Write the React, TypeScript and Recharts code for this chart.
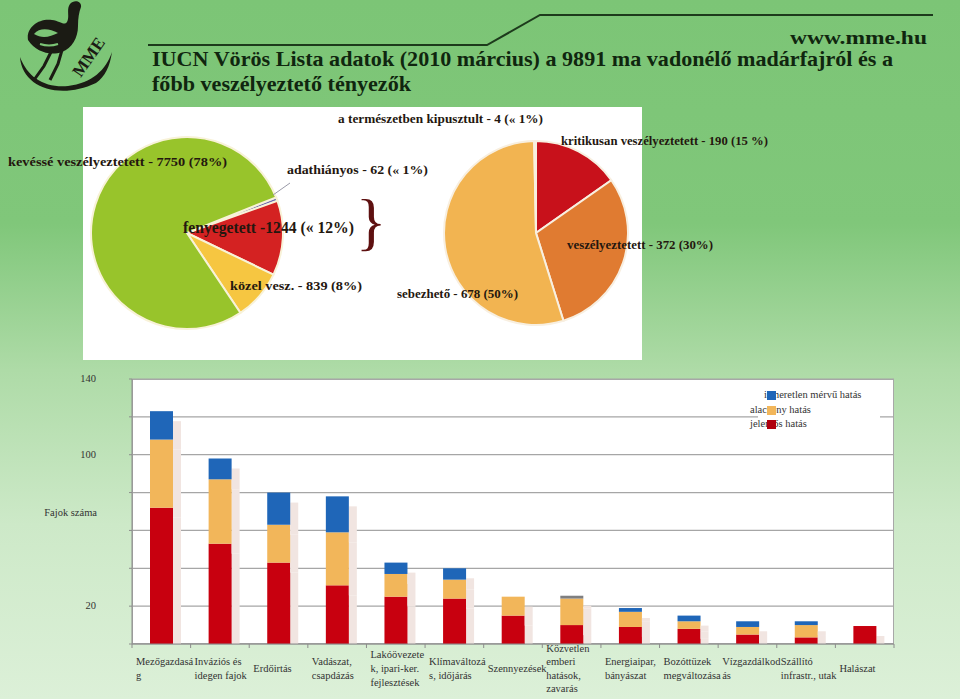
import React from "react";
import { PieChart, Pie, Cell, BarChart, Bar, XAxis, YAxis, CartesianGrid, Label } from "recharts";

const SERIF = '"Liberation Serif", "DejaVu Serif", serif';
const INK = "#24170f";
const TITLE_INK = "#10260f";

// bal kör: a 9891 faj IUCN kategóriái
const STATUS_NAMES = ["adathiányos", "fenyegetett", "közel vesz.", "kevéssé veszélyeztetett"];
const STATUS_COUNTS = [62, 1244, 839, 7750];
const STATUS_COLORS = ["#6f70b2", "#d42222", "#f6c641", "#98c42b"];

// jobb kör: a fenyegetett fajok bontása
const THREAT_NAMES = ["kritikusan veszélyeztetett", "veszélyeztetett", "sebezhető", "a természetben kipusztult"];
const THREAT_COUNTS = [190, 372, 678, 4];
const THREAT_COLORS = ["#c8111b", "#e07b31", "#f2b451", "#9b9b9b"];

// oszlopdiagram: veszélyeztető tényezők
const FACTORS = [
  "Mezőgazdasá\ng",
  "Inváziós és\nidegen fajok",
  "Erdőirtás",
  "Vadászat,\ncsapdázás",
  "Lakóövezete\nk, ipari-ker.\nfejlesztések",
  "Klímaváltozá\ns, időjárás",
  "Szennyezések",
  "Közvetlen\nemberi\nhatások,\nzavarás",
  "Energiaipar,\nbányászat",
  "Bozóttüzek\nmegváltozása",
  "Vízgazdálkod\nás",
  "Szállító\ninfrastr., utak",
  "Halászat",
];
const SIGNIFICANT = [72, 53, 43, 31, 25, 24, 15, 10, 9, 8, 5, 3.5, 9.5];
const LOW = [36, 34, 20, 28, 12, 10, 10, 14, 8, 4, 4, 6.5, 0];
const UNKNOWN = [15, 11, 17, 19, 6, 6, 0, 1.5, 2, 3, 3, 2, 0];
const Y_TICKS = [0, 20, 40, 60, 80, 100, 120, 140];
const Y_LABELS = [20, 100, 140];

const RED = "#c8000f";
const ORANGE = "#f2b65a";
const BLUE = "#1f66b8";
const GREY_TOP = "#7f7f80";

// jelmagyarázat sorrendje (felülről lefelé)
const LEGEND_NAMES = ["ismeretlen mérvű hatás", "alacsony hatás", "jelentős hatás"];
const LEGEND_COLORS = [BLUE, ORANGE, "#b0000e"];

const statusData = STATUS_NAMES.map((name, i) => ({ name, value: STATUS_COUNTS[i] }));
const threatData = THREAT_NAMES.map((name, i) => ({ name, value: THREAT_COUNTS[i] }));
const barData = FACTORS.map((name, i) => ({
  name,
  high: SIGNIFICANT[i],
  low: LOW[i],
  unknown: UNKNOWN[i],
}));

// bar chart geometry
const BAR_TOP = 370;
const BAR_W = 960;
const BAR_H = 329;
const X_AXIS_H = 55;
const M = { top: 9, right: 66, bottom: 0, left: 0 };
const Y_AXIS_W = 132;
const PLOT_W = BAR_W - M.right - Y_AXIS_W;
const BASELINE = BAR_H - X_AXIS_H;
const BAND = PLOT_W / FACTORS.length;

const PIE_TEXTS = [
  { t: "kevéssé veszélyeztetett - 7750 (78%)", x: 8, y: 166, w: 219, s: 13, b: true },
  { t: "adathiányos - 62 (« 1%)", x: 287, y: 174, w: 141, s: 13, b: true },
  { t: "fenyegetett -1244 (« 12%)", x: 183, y: 233, w: 171, s: 16, b: true },
  { t: "közel vesz. - 839 (8%)", x: 230, y: 290, w: 132, s: 13, b: true },
  { t: "sebezhető - 678 (50%)", x: 397, y: 298, w: 121, s: 13, b: true },
  { t: "a természetben kipusztult - 4 (« 1%)", x: 338, y: 123, w: 205, s: 13, b: true },
  { t: "kritikusan veszélyeztetett - 190 (15 %)", x: 561, y: 145, w: 207, s: 13, b: true },
  { t: "veszélyeztetett - 372 (30%)", x: 567, y: 249, w: 146, s: 13, b: true },
];

function Header() {
  return (
    <svg width={960} height={110} style={{ position: "absolute", left: 0, top: 0 }}>
      {/* MME logó, nagyjából */}
      <path
        d="M 20 57 C 22 88, 60 100, 96 83 C 105 77, 110 66, 112 52 C 106 70, 92 83, 68 86 C 45 88, 28 78, 20 57 Z"
        fill="#1b1b14"
      />
      <path
        d="M 28 40 C 26 28, 38 18, 52 20 C 60 21, 64 26, 67 22 C 70 16, 66 10, 70 4 C 74 -1, 82 1, 81 7 C 79 12, 78 18, 78 26 C 78 38, 72 48, 62 52 C 50 56, 36 52, 28 40 Z"
        fill="#1b1b14"
      />
      <path d="M 34 34 C 40 27, 50 29, 58 33 C 50 37, 42 39, 34 34 Z" fill="#7cc576" />
      <path d="M 40 44 C 46 46, 52 46, 58 44" stroke="#7cc576" strokeWidth={2} fill="none" />
      <path d="M 52 50 L 44 66 L 34 80 M 62 50 L 58 64 L 50 80" stroke="#1b1b14" strokeWidth={3} fill="none" />
      <text
        x={90}
        y={62}
        transform="rotate(-55 90 58)"
        textAnchor="middle"
        fontFamily={SERIF}
        fontWeight="bold"
        fontSize={17}
        fill="#1b1b14"
      >
        MME
      </text>
      <polyline points="148,45 487,45 540,15 933,15" fill="none" stroke="#1d3a1c" strokeWidth={2} />
      <text x={790} y={44} fontFamily={SERIF} fontWeight="bold" fontSize={19} fill={TITLE_INK} textLength={137} lengthAdjust="spacingAndGlyphs">
        www.mme.hu
      </text>
      <text x={152} y={66} fontFamily={SERIF} fontWeight="bold" fontSize={22} fill={TITLE_INK} textLength={741} lengthAdjust="spacingAndGlyphs">
        IUCN Vörös Lista adatok (2010 március) a 9891 ma vadonélő madárfajról és a
      </text>
      <text x={152} y={91} fontFamily={SERIF} fontWeight="bold" fontSize={22} fill={TITLE_INK} textLength={259} lengthAdjust="spacingAndGlyphs">
        főbb veszélyeztető tényezők
      </text>
    </svg>
  );
}

function PieLabels() {
  return (
    <svg width={960} height={380} style={{ position: "absolute", left: 0, top: 0, pointerEvents: "none" }}>
      <line x1={273} y1={195} x2={290} y2={183} stroke="#9a9aa8" strokeWidth={1} />
      <text x={371} y={243} textAnchor="middle" fontFamily={SERIF} fontSize={64} fill="#5e1010">
        {"}"}
      </text>
      {PIE_TEXTS.map((p) => (
        <text
          key={p.t}
          x={p.x}
          y={p.y}
          fontFamily={SERIF}
          fontWeight={p.b ? "bold" : "normal"}
          fontSize={p.s}
          fill={INK}
          textLength={p.w}
          lengthAdjust="spacingAndGlyphs"
        >
          {p.t}
        </text>
      ))}
    </svg>
  );
}

function ShadowBar(props: any) {
  const { x, y, width, height, fill } = props;
  if (!height || height <= 0) return <g />;
  const bottom = Math.min(y + height + 10, BASELINE);
  return (
    <g>
      {bottom > y + 10 && <rect x={x + width} y={y + 10} width={8} height={bottom - y - 10} fill="#f1e5e1" />}
      <rect x={x} y={y} width={width} height={height} fill={fill} />
    </g>
  );
}

function FactorTick(props: any) {
  const { x, payload, index } = props;
  const lines = String(payload.value).split("\n");
  const left = x - BAND / 2;
  const lh = 13.6;
  const y0 = 298 - ((lines.length - 1) * lh) / 2 + 4;
  return (
    <g>
      <line x1={left} x2={left} y1={BASELINE} y2={BASELINE + 4} stroke="#8c8c8c" />
      {index === FACTORS.length - 1 && (
        <line x1={left + BAND} x2={left + BAND} y1={BASELINE} y2={BASELINE + 4} stroke="#8c8c8c" />
      )}
      <text fontFamily={SERIF} fontSize={10.5} fill="#333">
        {lines.map((l, k) => (
          <tspan key={k} x={left + 4} y={y0 + k * lh}>
            {l}
          </tspan>
        ))}
      </text>
    </g>
  );
}

function CountTick(props: any) {
  const { y, payload } = props;
  if (!Y_LABELS.includes(payload.value)) return <g />;
  return (
    <text x={96} y={y + 3} textAnchor="end" fontFamily={SERIF} fontSize={10.5} fill="#333">
      {payload.value}
    </text>
  );
}

function AxisTitle(props: any) {
  const vb = props.viewBox && props.viewBox.height ? props.viewBox : { y: M.top, height: BASELINE - M.top };
  return (
    <text x={97} y={vb.y + vb.height / 2 + 4} textAnchor="end" fontFamily={SERIF} fontSize={10.5} fill="#333">
      Fajok száma
    </text>
  );
}

const LEGEND_TEXT_X = [14, 0, 0];

function ImpactLegend() {
  return (
    <div
      style={{
        position: "absolute",
        left: 750,
        top: 385,
        width: 130,
        height: 48,
        fontFamily: SERIF,
        fontSize: 10.5,
        color: "#333",
      }}
    >
      <div style={{ position: "absolute", left: 8, top: 0, width: 122, height: 48, background: "#fff" }} />
      {LEGEND_NAMES.map((name, i) => (
        <React.Fragment key={name}>
          <span style={{ position: "absolute", left: LEGEND_TEXT_X[i], top: 4 + i * 14.5, whiteSpace: "nowrap", lineHeight: "12px" }}>
            {name}
          </span>
          <span style={{ position: "absolute", left: 17, top: 6 + i * 14.5, width: 9, height: 9, background: LEGEND_COLORS[i] }} />
        </React.Fragment>
      ))}
    </div>
  );
}

export default function App() {
  return (
    <div
      style={{
        position: "absolute",
        left: 0,
        top: 0,
        width: 960,
        height: 699,
        overflow: "hidden",
        background: "linear-gradient(to bottom, #7cc576 0%, #80c77a 32%, #aedba7 53%, #cde9c8 75%, #dcf0d8 100%)",
      }}
    >
      <Header />
      <div style={{ position: "absolute", left: 83, top: 107, width: 559, height: 253, background: "#fff" }} />
      <div style={{ position: "absolute", left: 83, top: 107 }}>
        <PieChart width={559} height={253}>
          <Pie
            data={statusData}
            dataKey="value"
            nameKey="name"
            cx={99}
            cy={121}
            outerRadius={96}
            startAngle={21.8}
            endAngle={-338.2}
            stroke="#f8f2d8"
            strokeWidth={2}
            isAnimationActive={false}
          >
            {statusData.map((d, i) => (
              <Cell key={d.name} fill={STATUS_COLORS[i]} />
            ))}
          </Pie>
          <Pie
            data={threatData}
            dataKey="value"
            nameKey="name"
            cx={448}
            cy={121}
            outerRadius={92}
            startAngle={90}
            endAngle={-270}
            stroke="#f8efe0"
            strokeWidth={2}
            isAnimationActive={false}
          >
            {threatData.map((d, i) => (
              <Cell key={d.name} fill={THREAT_COLORS[i]} />
            ))}
          </Pie>
        </PieChart>
      </div>
      <PieLabels />

      <div
        style={{
          position: "absolute",
          left: Y_AXIS_W,
          top: BAR_TOP + M.top,
          width: PLOT_W,
          height: BASELINE - M.top,
          background: "#fff",
          boxSizing: "border-box",
          border: "1px solid #a8a8a8",
        }}
      />
      <div style={{ position: "absolute", left: 0, top: BAR_TOP }}>
        <BarChart width={BAR_W} height={BAR_H} data={barData} margin={M} barSize={23}>
          <CartesianGrid vertical={false} stroke="#a6a6a6" strokeWidth={1.2} />
          <XAxis
            dataKey="name"
            interval={0}
            tickLine={false}
            axisLine={{ stroke: "#8c8c8c" }}
            tick={<FactorTick />}
            height={X_AXIS_H}
          />
          <YAxis
            domain={[0, 140]}
            ticks={Y_TICKS}
            width={Y_AXIS_W}
            axisLine={{ stroke: "#8c8c8c" }}
            tickLine={{ stroke: "#8c8c8c" }}
            tickSize={3}
            tick={<CountTick />}
          >
            <Label content={<AxisTitle />} />
          </YAxis>
          <Bar dataKey="high" name="jelentős hatás" stackId="a" fill={RED} shape={<ShadowBar />} isAnimationActive={false} />
          <Bar dataKey="low" name="alacsony hatás" stackId="a" fill={ORANGE} shape={<ShadowBar />} isAnimationActive={false} />
          <Bar dataKey="unknown" name="ismeretlen mérvű hatás" stackId="a" fill={BLUE} shape={<ShadowBar />} isAnimationActive={false}>
            {barData.map((d, i) => (
              <Cell key={i} fill={i === 7 ? GREY_TOP : BLUE} />
            ))}
          </Bar>
        </BarChart>
      </div>
      <ImpactLegend />
    </div>
  );
}
